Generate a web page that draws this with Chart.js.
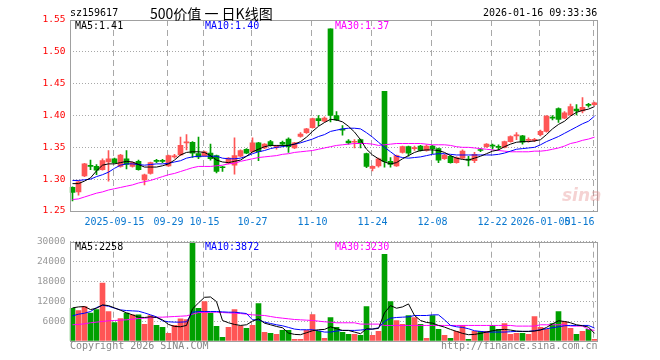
<!DOCTYPE html>
<html><head><meta charset="utf-8">
<script src="https://cdn.jsdelivr.net/npm/chart.js@4.4.1/dist/chart.umd.min.js"></script>
<style>
html,body{margin:0;padding:0;background:#fff;}
#wrap{position:relative;width:660px;height:360px;overflow:hidden;background:#fff;}
canvas{position:absolute;left:0;}
.t{position:absolute;font-family:'DejaVu Sans Mono',monospace;font-size:10px;line-height:12px;white-space:pre;}
</style></head><body>
<div id="wrap">
<canvas id="k" width="660" height="232" style="top:0"></canvas>
<canvas id="v" width="660" height="128" style="top:232px"></canvas>
<div class="t" style="left:70px;top:7px;color:#000">sz159617</div>
<div class="t" style="left:150px;top:5px;font-family:'Noto Sans CJK SC',sans-serif;font-size:14px;line-height:16px;color:#000">500价值 一 日K线图</div>
<div class="t" style="left:483px;top:7px;color:#000">2026-01-16 09:33:36</div>
<div class="t" style="left:75px;top:20px;color:#000">MA5:1.41</div>
<div class="t" style="left:205px;top:20px;color:#0000ff">MA10:1.40</div>
<div class="t" style="left:335px;top:20px;color:#ff00ff">MA30:1.37</div>
<div class="t" style="left:75px;top:241px;color:#000">MA5:2258</div>
<div class="t" style="left:205px;top:241px;color:#0000ff">MA10:3872</div>
<div class="t" style="left:335px;top:241px;color:#ff00ff">MA30:3230</div>
<div class="t" style="left:70px;top:340px;color:#888">Copyright 2026 SINA.COM</div>
<div class="t" style="left:441px;top:340px;color:#888">http://finance.sina.com.cn</div>
<div class="t" style="left:562px;top:185px;font-family:'DejaVu Sans',sans-serif;font-weight:bold;font-style:italic;font-size:17px;line-height:20px;color:rgba(225,130,130,0.35)">sina</div>
</div>
<script>
const dates = ['2025-09-04','2025-09-05','2025-09-08','2025-09-09','2025-09-10','2025-09-11','2025-09-12','2025-09-15','2025-09-16','2025-09-17',
'2025-09-18','2025-09-19','2025-09-23','2025-09-24','2025-09-25','2025-09-26','2025-09-29','2025-09-30','2025-10-09','2025-10-10',
'2025-10-13','2025-10-14','2025-10-15','2025-10-16','2025-10-17','2025-10-20','2025-10-21','2025-10-22','2025-10-23','2025-10-24',
'2025-10-27','2025-10-28','2025-10-29','2025-10-30','2025-10-31','2025-11-03','2025-11-04','2025-11-05','2025-11-06','2025-11-07',
'2025-11-10','2025-11-11','2025-11-12','2025-11-13','2025-11-14','2025-11-17','2025-11-18','2025-11-19','2025-11-20','2025-11-21',
'2025-11-24','2025-11-25','2025-11-26','2025-11-27','2025-11-28','2025-12-01','2025-12-02','2025-12-03','2025-12-04','2025-12-05',
'2025-12-08','2025-12-09','2025-12-10','2025-12-11','2025-12-12','2025-12-15','2025-12-16','2025-12-17','2025-12-18','2025-12-19',
'2025-12-22','2025-12-23','2025-12-24','2025-12-25','2025-12-26','2025-12-29','2025-12-30','2025-12-31','2026-01-05','2026-01-06',
'2026-01-07','2026-01-08','2026-01-09','2026-01-12','2026-01-13','2026-01-14','2026-01-15','2026-01-16'];

const opens = [1.287,1.280,1.305,1.321,1.320,1.315,1.327,1.332,1.320,1.332,1.320,1.328,1.299,1.309,1.329,1.329,1.321,1.335,1.338,1.357,
1.358,1.340,1.337,1.341,1.337,1.319,1.325,1.322,1.336,1.347,1.343,1.357,1.349,1.359,1.350,1.358,1.363,1.349,1.367,1.373,
1.381,1.395,1.391,1.536,1.400,1.378,1.360,1.358,1.362,1.340,1.317,1.321,1.438,1.328,1.321,1.342,1.351,1.348,1.352,1.345,
1.352,1.348,1.332,1.336,1.326,1.333,1.331,1.329,1.346,1.351,1.353,1.351,1.350,1.359,1.368,1.368,1.361,1.361,1.370,1.375,
1.397,1.411,1.396,1.401,1.410,1.407,1.417,1.417];
const highs = [1.288,1.297,1.325,1.330,1.323,1.332,1.345,1.333,1.339,1.345,1.327,1.330,1.308,1.327,1.331,1.331,1.338,1.339,1.366,1.370,
1.359,1.366,1.344,1.355,1.338,1.320,1.334,1.365,1.346,1.348,1.365,1.358,1.356,1.361,1.353,1.360,1.365,1.358,1.373,1.380,
1.396,1.400,1.398,1.536,1.406,1.384,1.362,1.362,1.363,1.341,1.321,1.333,1.438,1.334,1.338,1.352,1.352,1.352,1.353,1.354,
1.353,1.349,1.339,1.337,1.335,1.346,1.336,1.342,1.348,1.356,1.355,1.354,1.360,1.368,1.373,1.369,1.365,1.364,1.377,1.400,
1.400,1.412,1.406,1.418,1.417,1.428,1.419,1.421];
const lows = [1.266,1.275,1.304,1.315,1.307,1.314,1.297,1.325,1.319,1.316,1.319,1.314,1.291,1.308,1.326,1.326,1.320,1.333,1.337,1.346,
1.334,1.332,1.336,1.330,1.310,1.312,1.324,1.308,1.335,1.340,1.342,1.329,1.348,1.352,1.347,1.352,1.342,1.348,1.366,1.372,
1.380,1.384,1.390,1.390,1.392,1.369,1.355,1.349,1.349,1.318,1.313,1.319,1.319,1.319,1.320,1.341,1.336,1.345,1.344,1.344,
1.340,1.326,1.331,1.325,1.325,1.332,1.321,1.326,1.343,1.350,1.347,1.346,1.349,1.358,1.362,1.355,1.358,1.359,1.368,1.374,
1.393,1.389,1.395,1.400,1.401,1.404,1.413,1.416];
const closes = [1.279,1.296,1.324,1.320,1.314,1.329,1.332,1.326,1.338,1.323,1.326,1.315,1.307,1.326,1.328,1.328,1.337,1.336,1.353,1.358,
1.341,1.335,1.343,1.332,1.312,1.318,1.333,1.337,1.345,1.341,1.357,1.343,1.355,1.353,1.351,1.355,1.351,1.357,1.371,1.379,
1.395,1.392,1.396,1.400,1.393,1.377,1.357,1.359,1.356,1.320,1.320,1.332,1.328,1.323,1.337,1.351,1.341,1.349,1.345,1.352,
1.348,1.330,1.338,1.326,1.334,1.344,1.330,1.339,1.345,1.355,1.352,1.350,1.359,1.367,1.369,1.358,1.362,1.362,1.375,1.399,
1.396,1.394,1.404,1.414,1.407,1.413,1.416,1.420];

const ma5 = [1.293,1.293,1.297,1.302,1.313,1.322,1.324,1.324,1.326,1.328,1.327,1.323,1.319,1.319,1.319,1.321,1.324,1.330,1.338,1.342,
1.343,1.343,1.342,1.337,1.330,1.327,1.326,1.328,1.330,1.336,1.343,1.347,1.351,1.353,1.353,1.353,1.353,1.355,1.359,1.366,
1.375,1.383,1.389,1.394,1.393,1.390,1.383,1.374,1.362,1.347,1.338,1.332,1.327,1.324,1.326,1.332,1.337,1.342,1.345,1.346,
1.346,1.345,1.342,1.337,1.333,1.331,1.330,1.333,1.336,1.340,1.344,1.346,1.351,1.355,1.358,1.359,1.359,1.360,1.362,1.370,
1.379,1.386,1.391,1.399,1.405,1.408,1.410,1.414];
const ma10 = [1.298,1.298,1.299,1.300,1.304,1.307,1.311,1.317,1.322,1.324,1.324,1.323,1.322,1.323,1.324,1.324,1.325,1.327,1.329,1.333,
1.335,1.336,1.336,1.336,1.336,1.333,1.332,1.332,1.333,1.336,1.340,1.343,1.345,1.348,1.350,1.351,1.353,1.355,1.357,1.360,
1.363,1.367,1.370,1.375,1.377,1.379,1.380,1.380,1.379,1.373,1.366,1.358,1.350,1.343,1.336,1.334,1.333,1.334,1.335,1.337,
1.339,1.340,1.340,1.339,1.338,1.338,1.338,1.338,1.338,1.338,1.338,1.339,1.341,1.344,1.347,1.348,1.349,1.350,1.354,1.359,
1.363,1.367,1.372,1.377,1.382,1.387,1.391,1.399];
const ma30 = [1.268,1.269,1.272,1.275,1.278,1.280,1.283,1.285,1.287,1.289,1.291,1.294,1.296,1.298,1.301,1.304,1.307,1.309,1.312,1.315,
1.318,1.320,1.320,1.320,1.321,1.322,1.324,1.325,1.328,1.330,1.332,1.334,1.335,1.336,1.337,1.339,1.340,1.342,1.343,1.344,
1.345,1.347,1.349,1.351,1.353,1.354,1.355,1.356,1.356,1.356,1.355,1.353,1.354,1.355,1.356,1.356,1.356,1.356,1.356,1.355,
1.354,1.354,1.354,1.353,1.351,1.350,1.350,1.349,1.348,1.347,1.346,1.345,1.344,1.343,1.343,1.343,1.343,1.344,1.344,1.345,
1.347,1.349,1.352,1.356,1.358,1.361,1.363,1.366];

const vols = [9900,9200,10400,8400,9500,17500,8900,5600,6800,8400,7900,7900,5000,7700,4700,4100,2300,4700,6700,6500,
30500,9900,11900,8400,4400,1100,4100,9500,4500,3800,4700,11300,2600,2300,2000,3200,3200,500,500,3200,
8000,2900,800,7100,4100,2600,2000,2000,1700,10400,1700,2900,26200,11900,6200,5000,7700,7100,5000,800,
7700,3500,1700,800,2900,4700,500,2900,2900,2900,4700,3500,5300,2000,2300,2300,2000,7400,4100,3500,
5300,8900,5900,3800,2000,2900,3500,500];
const vma5 = [10000,10300,10400,9500,9900,10900,10700,10000,9300,8500,7900,7200,7100,7300,7100,6400,5000,4400,4300,4700,
9700,11500,13200,13300,11900,6200,5500,5000,4700,4900,6000,6700,5400,4900,4400,4000,2400,2000,1900,2500,
3100,3400,3500,4300,3700,3200,3200,2700,2200,3700,3600,3800,8500,10700,9900,10300,11200,7700,6200,5600,
5400,4700,4200,3500,2900,2300,1900,2000,2300,2700,3100,3400,3500,3300,3000,2900,2900,3000,3300,4100,
5200,6100,5900,5500,4900,4600,4200,2300];
const vma10 = [7600,8100,8400,8900,10100,10800,10500,9900,9400,9200,9100,9000,8500,7900,7300,6100,5800,5700,5700,5800,
8700,8900,8900,8900,8900,8800,8700,8700,8500,8300,6400,6400,5700,5300,4900,4600,4100,3600,3400,3400,
3400,3100,2700,2700,3000,3200,3200,3200,3300,3500,3600,4000,5900,6900,7100,7200,7300,7700,7700,7700,
7900,7900,6400,4700,4300,4100,3700,3100,2900,2700,2700,2700,2700,2800,2900,2900,2900,3100,3400,3700,
4000,4300,4600,4700,4700,4700,4700,3900];
const vma30 = [4900,5000,5200,5500,5700,5900,6100,6200,6300,6400,6600,6800,6900,7000,7200,7200,7300,7400,7500,7600,
8100,8600,8600,8700,8700,8600,8500,8400,8300,8100,7900,7800,7700,7400,7100,6900,6700,6500,6400,6300,
6200,6000,5800,5700,5500,5500,5500,5500,5100,5100,5100,5100,4700,4700,4700,4700,4700,4700,4700,4700,
4700,4700,4700,4700,4700,4700,4700,4700,4700,4700,4700,4700,4700,4700,4500,4500,4500,4500,4900,4900,
4900,4900,4900,4500,4500,4500,3500,3200];

const tickDates = ['2025-09-15','2025-09-29','2025-10-15','2025-10-27','2025-11-10','2025-11-24','2025-12-08','2025-12-22','2026-01-05','2026-01-16'];
const tickTexts = ['2025-09-15','09-29','10-15','10-27','11-10','11-24','12-08','12-22','2026-01-05','01-16'];
const priceTicks = [1.25,1.30,1.35,1.40,1.45,1.50,1.55];
const volTicks = [0,6000,12000,18000,24000,30000];

const RED = '#ff5555', GREEN = '#00a000', GRID = '#a8a8a8', MONO = 'DejaVu Sans Mono';
const tickIdx = tickDates.map(d => dates.indexOf(d));
const isUp = i => closes[i] >= opens[i];
const candleColor = c => isUp(c.dataIndex) ? RED : GREEN;
const xLabel = (v, i) => {
  const k = tickIdx.indexOf(i);
  if (k < 0) return '';
  const s = tickTexts[k];
  return k === tickTexts.length - 1 ? s + ' '.repeat(s.length) : s;
};

const framePlugin = {
  id: 'frame',
  beforeDatasetsDraw(chart) {
    const { ctx, chartArea: a, scales: { x } } = chart;
    ctx.save();
    ctx.strokeStyle = GRID;
    ctx.lineWidth = 1;
    ctx.setLineDash([6, 4]);
    tickIdx.forEach(i => {
      const px = Math.floor(x.getPixelForValue(i)) - 0.5;
      ctx.beginPath();
      ctx.moveTo(px, a.top);
      ctx.lineTo(px, a.bottom);
      ctx.stroke();
    });
    ctx.restore();
  },
  afterDraw(chart) {
    const { ctx, chartArea: a } = chart;
    ctx.save();
    ctx.strokeStyle = '#a0a0a0';
    ctx.lineWidth = 1;
    const l = Math.ceil(a.left) + 0.5, r = Math.floor(a.right) + 0.5;
    const t = Math.round(a.top) + 0.5, b = Math.round(a.bottom) + 0.5;
    ctx.strokeRect(l, t, r - l, b - t);
    ctx.restore();
  }
};

const lineDs = (data, color) => ({ type: 'line', data, borderColor: color, borderWidth: 1, pointRadius: 0, tension: 0, order: 0, fill: false });

new Chart(document.getElementById('k'), {
  type: 'bar',
  data: {
    labels: dates,
    datasets: [
      lineDs(ma5, '#000000'),
      lineDs(ma10, '#0000ff'),
      lineDs(ma30, '#ff00ff'),
      { data: dates.map((d, i) => [opens[i], closes[i]]), backgroundColor: candleColor, barThickness: 5, minBarLength: 1, grouped: false, order: 1, borderWidth: 0 },
      { data: dates.map((d, i) => [lows[i], highs[i]]), backgroundColor: candleColor, barThickness: 1, grouped: false, order: 2, borderWidth: 0 }
    ]
  },
  options: {
    responsive: false, animation: false, devicePixelRatio: 1,
    layout: { padding: { top: 20, right: 62.5, left: 0, bottom: 0 } },
    plugins: { legend: { display: false }, tooltip: { enabled: false } },
    scales: {
      x: {
        offset: true,
        grid: { display: false, drawTicks: false },
        border: { display: false },
        ticks: { autoSkip: false, maxRotation: 0, minRotation: 0, padding: 5.5, color: '#0a78d0', font: { family: MONO, size: 10 }, callback: xLabel },
        afterFit: s => { s.height = 21; }
      },
      y: {
        min: 1.25, max: 1.55,
        afterBuildTicks: s => { s.ticks = priceTicks.map(v => ({ value: v })); },
        ticks: { color: '#ff0000', padding: 4, font: { family: MONO, size: 9.5 }, callback: v => v.toFixed(2) },
        grid: { color: GRID, drawTicks: false },
        border: { display: false, dash: [1, 2] },
        afterFit: s => { s.width = 69.5; }
      }
    }
  },
  plugins: [framePlugin]
});

new Chart(document.getElementById('v'), {
  type: 'bar',
  data: {
    labels: dates,
    datasets: [
      lineDs(vma5, '#000000'),
      lineDs(vma10, '#0000ff'),
      lineDs(vma30, '#ff00ff'),
      { data: vols, backgroundColor: candleColor, barThickness: 5, order: 1, borderWidth: 0 }
    ]
  },
  options: {
    responsive: false, animation: false, devicePixelRatio: 1,
    layout: { padding: { top: 8, right: 62.5, left: 0, bottom: 0 } },
    plugins: { legend: { display: false }, tooltip: { enabled: false } },
    scales: {
      x: {
        offset: true,
        grid: { display: false, drawTicks: false },
        border: { display: false },
        ticks: { display: false, autoSkip: false },
        afterFit: s => { s.height = 19; }
      },
      y: {
        min: 0, max: 30000,
        afterBuildTicks: s => { s.ticks = volTicks.map(v => ({ value: v })); },
        ticks: { color: '#999999', padding: 4, font: { family: MONO, size: 9.5 }, callback: v => v === 0 ? '' : String(v) },
        grid: { color: GRID, drawTicks: false },
        border: { display: false, dash: [1, 2] },
        afterFit: s => { s.width = 69.5; }
      }
    }
  },
  plugins: [framePlugin]
});
</script>
</body></html>
